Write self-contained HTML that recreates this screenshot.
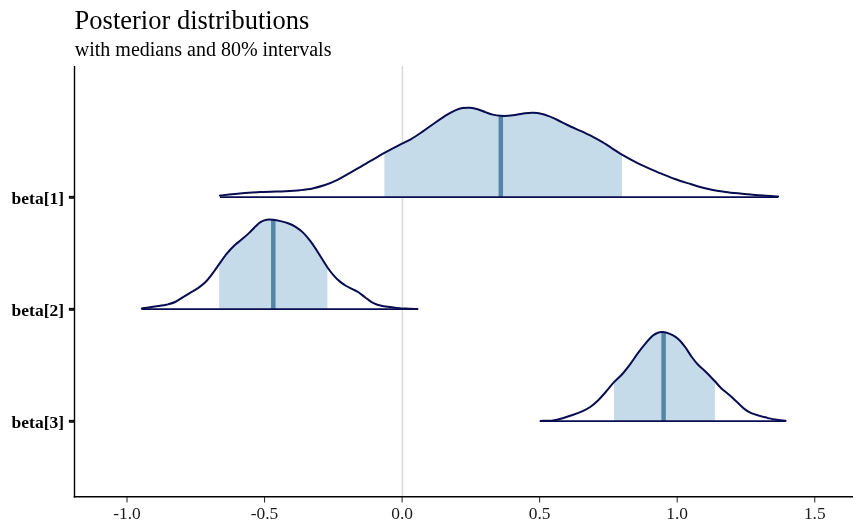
<!DOCTYPE html>
<html><head><meta charset="utf-8">
<title>Posterior distributions</title>
<style>
html,body{margin:0;padding:0;background:#fff;}
svg{display:block;}
text{font-family:"Liberation Serif","Times New Roman",serif;fill:#000;}
.xl text{fill:#1c1c1c;}
</style></head><body>
<svg width="864" height="530" viewBox="0 0 864 530">
<rect width="864" height="530" fill="#fff"/>
<text x="74.6" y="28.8" font-size="26.5">Posterior distributions</text>
<text x="74.8" y="55.8" font-size="20">with medians and 80% intervals</text>
<line x1="402.4" y1="65.8" x2="402.4" y2="496.5" stroke="#d8d8d8" stroke-width="1.5"/>
<path d="M384.4 152.9C386.7 151.7 393.8 147.9 398.2 145.6C402.6 143.3 406.6 141.6 410.7 139.3C414.8 137.0 418.4 134.5 422.5 131.7C426.6 128.9 430.9 125.6 435.1 122.7C439.3 119.8 444.2 116.5 447.6 114.4C451.0 112.4 452.7 111.5 455.2 110.4C457.7 109.4 460.2 108.5 462.7 108.1C465.2 107.7 467.7 107.6 470.2 107.8C472.7 108.0 475.2 108.6 477.7 109.3C480.2 110.0 482.8 111.2 485.3 112.1C487.8 113.0 490.2 114.0 492.8 114.6C495.4 115.2 498.3 115.6 500.8 115.8C503.3 116.0 505.2 116.0 508.0 115.8C510.8 115.6 514.7 114.9 517.5 114.5C520.3 114.1 522.4 113.6 525.0 113.3C527.6 113.0 530.4 112.7 533.1 112.8C535.8 112.9 538.6 113.2 541.2 113.8C543.9 114.3 546.0 115.1 548.8 116.1C551.5 117.1 554.4 118.5 557.5 120.0C560.6 121.5 563.8 123.2 567.5 125.0C571.2 126.8 575.8 128.8 580.0 130.7C584.2 132.6 588.8 134.7 592.5 136.6C596.2 138.5 599.2 140.2 602.5 142.2C605.8 144.2 609.2 146.5 612.5 148.6C615.8 150.7 620.4 153.6 622.0 154.7L622.0 197.1 L384.4 197.1 Z" fill="#c6dbea"/>
<line x1="500.8" y1="115.8" x2="500.8" y2="197.1" stroke="#5485a6" stroke-width="4.5"/>
<path d="M220.0 195.6C222.5 195.3 228.4 194.5 235.1 193.9C241.8 193.3 251.8 192.6 260.2 192.1C268.6 191.6 278.7 191.5 285.3 191.2C291.9 190.9 295.5 190.7 300.0 190.2C304.5 189.7 308.3 189.3 312.5 188.4C316.7 187.5 320.8 186.4 325.0 185.0C329.2 183.6 333.3 181.8 337.5 179.8C341.7 177.8 345.8 175.2 350.0 172.9C354.2 170.6 358.3 168.1 362.5 165.7C366.7 163.3 371.4 160.5 375.0 158.4C378.6 156.3 380.5 155.0 384.4 152.9C388.3 150.8 393.8 147.9 398.2 145.6C402.6 143.3 406.6 141.6 410.7 139.3C414.8 137.0 418.4 134.5 422.5 131.7C426.6 128.9 430.9 125.6 435.1 122.7C439.3 119.8 444.2 116.5 447.6 114.4C451.0 112.4 452.7 111.5 455.2 110.4C457.7 109.4 460.2 108.5 462.7 108.1C465.2 107.7 467.7 107.6 470.2 107.8C472.7 108.0 475.2 108.6 477.7 109.3C480.2 110.0 482.8 111.2 485.3 112.1C487.8 113.0 490.2 114.0 492.8 114.6C495.4 115.2 498.3 115.6 500.8 115.8C503.3 116.0 505.2 116.0 508.0 115.8C510.8 115.6 514.7 114.9 517.5 114.5C520.3 114.1 522.4 113.6 525.0 113.3C527.6 113.0 530.4 112.7 533.1 112.8C535.8 112.9 538.6 113.2 541.2 113.8C543.9 114.3 546.0 115.1 548.8 116.1C551.5 117.1 554.4 118.5 557.5 120.0C560.6 121.5 563.8 123.2 567.5 125.0C571.2 126.8 575.8 128.8 580.0 130.7C584.2 132.6 588.8 134.7 592.5 136.6C596.2 138.5 599.2 140.2 602.5 142.2C605.8 144.2 609.3 146.5 612.5 148.6C615.7 150.7 617.7 152.2 621.9 154.6C626.1 157.0 632.8 160.7 637.5 163.1C642.2 165.5 645.8 166.9 650.0 168.8C654.2 170.6 658.3 172.4 662.5 174.1C666.7 175.8 670.8 177.5 675.0 179.0C679.2 180.5 683.3 181.8 687.5 183.1C691.7 184.4 695.8 185.8 700.0 187.0C704.2 188.2 708.7 189.2 712.9 190.0C717.1 190.8 721.2 191.3 725.4 191.9C729.6 192.5 733.8 192.9 738.0 193.3C742.2 193.7 746.3 194.1 750.5 194.5C754.7 194.9 758.5 195.3 763.1 195.6C767.7 195.9 775.6 196.3 778.1 196.5" fill="none" stroke="#080c50" stroke-width="2" stroke-linecap="round" stroke-linejoin="round"/>
<line x1="220.0" y1="197.1" x2="778.1" y2="197.1" stroke="#080c50" stroke-width="1.9" stroke-linecap="butt"/>
<path d="M219.1 264.2C220.3 262.5 224.1 257.0 226.6 253.9C229.1 250.8 231.6 248.1 234.1 245.7C236.6 243.3 239.1 241.7 241.6 239.6C244.1 237.5 246.9 235.1 249.2 232.9C251.5 230.7 253.5 228.4 255.4 226.6C257.3 224.8 258.6 223.2 260.5 222.1C262.4 221.0 264.6 220.2 266.7 219.8C268.8 219.4 270.7 219.6 273.0 219.8C275.3 220.0 278.0 220.5 280.5 221.1C283.0 221.7 285.6 222.4 288.1 223.3C290.6 224.2 293.1 225.2 295.6 226.8C298.1 228.4 300.6 230.2 303.1 232.6C305.6 235.0 308.1 238.1 310.6 241.4C313.1 244.8 315.4 248.4 318.2 252.7C321.0 257.0 325.9 264.9 327.4 267.3L327.4 309.1 L219.1 309.1 Z" fill="#c6dbea"/>
<line x1="273.3" y1="219.9" x2="273.3" y2="309.1" stroke="#5485a6" stroke-width="4.5"/>
<path d="M141.8 308.4C144.0 308.1 150.8 307.2 155.1 306.5C159.4 305.8 164.2 305.1 167.6 304.4C170.9 303.6 172.7 303.2 175.2 302.0C177.7 300.8 180.2 298.8 182.7 297.3C185.2 295.8 187.7 294.3 190.2 292.8C192.7 291.3 195.2 290.1 197.7 288.3C200.2 286.6 203.0 284.6 205.3 282.3C207.6 280.1 209.2 277.8 211.5 274.8C213.8 271.8 216.6 267.7 219.1 264.2C221.6 260.7 224.1 257.0 226.6 253.9C229.1 250.8 231.6 248.1 234.1 245.7C236.6 243.3 239.1 241.7 241.6 239.6C244.1 237.5 246.9 235.1 249.2 232.9C251.5 230.7 253.5 228.4 255.4 226.6C257.3 224.8 258.6 223.2 260.5 222.1C262.4 221.0 264.6 220.2 266.7 219.8C268.8 219.4 270.7 219.6 273.0 219.8C275.3 220.0 278.0 220.5 280.5 221.1C283.0 221.7 285.6 222.4 288.1 223.3C290.6 224.2 293.1 225.2 295.6 226.8C298.1 228.4 300.6 230.2 303.1 232.6C305.6 235.0 308.1 238.1 310.6 241.4C313.1 244.8 315.4 248.3 318.2 252.7C321.0 257.1 324.9 263.7 327.5 267.5C330.1 271.3 331.7 273.2 333.8 275.6C335.8 278.0 337.9 279.9 340.0 281.6C342.1 283.3 344.2 284.8 346.2 286.0C348.3 287.2 350.4 288.0 352.5 289.1C354.6 290.2 356.7 291.1 358.8 292.5C360.8 293.9 362.9 295.7 365.0 297.2C367.1 298.8 369.2 300.6 371.2 301.9C373.3 303.1 375.4 304.0 377.5 304.8C379.6 305.5 381.7 305.9 383.8 306.2C385.8 306.6 387.9 306.8 390.0 307.1C392.1 307.4 394.2 307.7 396.2 307.9C398.3 308.1 400.2 308.2 402.5 308.4C404.8 308.5 407.5 308.7 410.0 308.8C412.5 308.9 416.2 309.0 417.5 309.0" fill="none" stroke="#080c50" stroke-width="2" stroke-linecap="round" stroke-linejoin="round"/>
<line x1="141.8" y1="309.1" x2="417.5" y2="309.1" stroke="#080c50" stroke-width="1.9" stroke-linecap="butt"/>
<path d="M614.0 382.2C615.5 380.8 620.1 376.6 622.8 373.5C625.5 370.4 627.9 367.3 630.4 363.9C632.9 360.5 635.4 356.5 637.9 353.1C640.4 349.7 642.9 346.5 645.4 343.6C647.9 340.7 650.8 337.4 652.9 335.6C655.0 333.8 656.2 333.3 657.9 332.7C659.6 332.1 661.1 332.0 663.0 332.1C664.9 332.2 667.1 332.8 669.2 333.6C671.3 334.4 673.6 335.5 675.5 336.8C677.4 338.1 678.8 339.4 680.5 341.2C682.2 343.0 683.6 344.9 685.5 347.5C687.4 350.1 689.7 354.1 691.8 357.0C693.9 359.9 695.7 362.2 698.1 364.8C700.5 367.4 703.5 369.5 706.2 372.3C709.0 375.1 713.5 379.8 714.9 381.3L714.9 421.1 L614.0 421.1 Z" fill="#c6dbea"/>
<line x1="663.6" y1="332.2" x2="663.6" y2="421.1" stroke="#5485a6" stroke-width="4.5"/>
<path d="M540.5 420.9C542.5 420.8 548.9 420.8 552.6 420.4C556.3 419.9 559.3 419.1 562.6 418.2C565.9 417.3 569.2 416.2 572.6 415.0C576.0 413.8 579.8 412.4 582.7 411.1C585.6 409.8 587.7 408.7 590.2 407.0C592.7 405.3 595.2 403.1 597.7 400.7C600.2 398.3 602.6 395.6 605.3 392.5C608.0 389.4 611.1 385.4 614.0 382.2C616.9 379.0 620.1 376.6 622.8 373.5C625.5 370.4 627.9 367.3 630.4 363.9C632.9 360.5 635.4 356.5 637.9 353.1C640.4 349.7 642.9 346.5 645.4 343.6C647.9 340.7 650.8 337.4 652.9 335.6C655.0 333.8 656.2 333.3 657.9 332.7C659.6 332.1 661.1 332.0 663.0 332.1C664.9 332.2 667.1 332.8 669.2 333.6C671.3 334.4 673.6 335.5 675.5 336.8C677.4 338.1 678.8 339.4 680.5 341.2C682.2 343.0 683.6 344.9 685.5 347.5C687.4 350.1 689.7 354.1 691.8 357.0C693.9 359.9 695.7 362.2 698.1 364.8C700.5 367.4 703.5 369.6 706.2 372.3C709.0 375.0 711.9 378.2 714.4 380.8C716.9 383.4 718.6 385.7 721.2 388.2C723.9 390.7 727.3 393.2 730.0 395.6C732.7 398.0 735.0 400.2 737.5 402.5C740.0 404.8 742.7 407.6 745.0 409.4C747.3 411.2 749.0 412.1 751.2 413.1C753.5 414.1 756.0 414.8 758.8 415.6C761.5 416.4 764.8 417.2 767.5 417.9C770.2 418.5 772.5 419.1 775.0 419.5C777.5 419.9 780.7 420.3 782.5 420.5C784.3 420.7 785.1 420.8 785.6 420.8" fill="none" stroke="#080c50" stroke-width="2" stroke-linecap="round" stroke-linejoin="round"/>
<line x1="540.5" y1="421.1" x2="785.6" y2="421.1" stroke="#080c50" stroke-width="1.9" stroke-linecap="butt"/>
<line x1="74.5" y1="66" x2="74.5" y2="497.4" stroke="#000" stroke-width="1.4"/>
<line x1="73.7" y1="496.8" x2="853" y2="496.8" stroke="#000" stroke-width="1.5"/>
<line x1="68.9" y1="197.3" x2="74.5" y2="197.3" stroke="#000" stroke-width="2.9"/><line x1="69.6" y1="197.3" x2="73.5" y2="197.3" stroke="#3a3a3a" stroke-width="0.6"/>
<line x1="68.9" y1="309.3" x2="74.5" y2="309.3" stroke="#000" stroke-width="2.9"/><line x1="69.6" y1="309.3" x2="73.5" y2="309.3" stroke="#3a3a3a" stroke-width="0.6"/>
<line x1="68.9" y1="421.3" x2="74.5" y2="421.3" stroke="#000" stroke-width="2.9"/><line x1="69.6" y1="421.3" x2="73.5" y2="421.3" stroke="#3a3a3a" stroke-width="0.6"/>
<line x1="127.00" y1="497" x2="127.00" y2="502.5" stroke="#222" stroke-width="1"/>
<line x1="264.55" y1="497" x2="264.55" y2="502.5" stroke="#222" stroke-width="1"/>
<line x1="402.10" y1="497" x2="402.10" y2="502.5" stroke="#222" stroke-width="1"/>
<line x1="539.65" y1="497" x2="539.65" y2="502.5" stroke="#222" stroke-width="1"/>
<line x1="677.20" y1="497" x2="677.20" y2="502.5" stroke="#222" stroke-width="1"/>
<line x1="814.75" y1="497" x2="814.75" y2="502.5" stroke="#222" stroke-width="1"/>
<g font-size="17.5" font-weight="bold" text-anchor="end">
<text x="64.1" y="204.2">beta[1]</text>
<text x="64.1" y="316.2">beta[2]</text>
<text x="64.1" y="428.2">beta[3]</text>
</g>
<g class="xl" font-size="17.4" text-anchor="middle">
<text x="127.00" y="519.2">-1.0</text>
<text x="264.55" y="519.2">-0.5</text>
<text x="402.10" y="519.2">0.0</text>
<text x="539.65" y="519.2">0.5</text>
<text x="677.20" y="519.2">1.0</text>
<text x="814.75" y="519.2">1.5</text>
</g>
</svg>
</body></html>
